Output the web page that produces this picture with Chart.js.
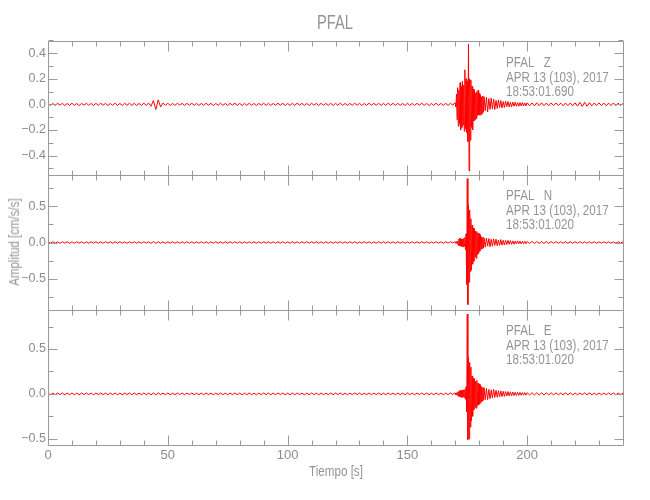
<!DOCTYPE html>
<html>
<head>
<meta charset="utf-8">
<script src="https://cdn.jsdelivr.net/npm/chart.js@4.4.1/dist/chart.umd.min.js"></script>
<style>
  body { margin: 0; background: #fff; }
  #wrap { position: relative; width: 650px; height: 500px; }
  canvas { position: absolute; left: 0; top: 0; }
  .t { position: absolute; font-family: 'Liberation Sans', sans-serif; color: #959595; white-space: pre; line-height: 1; }
  .info { font-size: 14px; line-height: 14.5px; left: 506px; transform: scaleX(0.83); transform-origin: 0 0; }
</style>
</head>
<body>
<div id="wrap">
  <canvas id="cz" width="650" height="500"></canvas>
  <canvas id="cn" width="650" height="500"></canvas>
  <canvas id="ce" width="650" height="500"></canvas>
  <div class="t" style="left:335px;top:13px;font-size:19.5px;transform:translateX(-50%) scaleX(0.75);">PFAL</div>
  <div class="t info" style="top:55px;">PFAL   Z
APR 13 (103), 2017
18:53:01.690</div>
  <div class="t info" style="top:188px;">PFAL   N
APR 13 (103), 2017
18:53:01.020</div>
  <div class="t info" style="top:323px;">PFAL   E
APR 13 (103), 2017
18:53:01.020</div>
  <div class="t" style="left:336px;top:464px;font-size:14px;transform:translateX(-50%) scaleX(0.83);">Tiempo [s]</div>
  <div class="t" style="left:14px;top:242px;font-size:14px;transform:translate(-50%,-50%) rotate(-90deg) scaleX(0.82);">Amplitud [cm/s/s]</div>
</div>
<script>
// sample times (s): quiet part, event, coda
const tQuiet = [0,1,2,3,4,5,6,7,8,9,10,11,12,13,14,15,16,17,18,19,20,21,22,23,24,25,26,27,28,29,30,31,32,33,34,35,36,37,38,39,
  40,41,42,43,44,45,46,47,48,49,50,51,52,53,54,55,56,57,58,59,60,61,62,63,64,65,66,67,68,69,70,71,72,73,74,75,76,77,78,79,
  80,81,82,83,84,85,86,87,88,89,90,91,92,93,94,95,96,97,98,99,100,101,102,103,104,105,106,107,108,109,110,111,112,113,114,115,116,117,118,119,
  120,121,122,123,124,125,126,127,128,129,130,131,132,133,134,135,136,137,138,139,140,141,142,143,144,145,146,147,148,149,
  150,151,152,153,154,155,156,157,158,159,160,161,162,163,164,165,166,167,168];
const tEvent = [169,169.5,
  170,170.25,170.5,170.75,171,171.25,171.5,171.75,172,172.25,172.5,172.75,173,173.25,173.5,173.75,174,174.25,174.5,174.75,
  175,175.25,175.5,175.75,176,176.25,176.5,176.75,177,177.25,177.5,177.75,178,178.25,178.5,178.75,179,179.25,179.5,179.75,
  180,180.25,180.5,180.75,181,181.25,181.5,181.75,182,
  182.5,183,183.5,184,184.5,185,185.5,186,186.5,187,187.5,188,188.5,189,189.5,190,190.5,191,191.5,192,192.5,193,193.5,194,194.5,195,195.5,196,196.5,197,197.5,198,198.5,199,199.5,200];
const tCoda = [201,202,203,204,205,206,207,208,209,210,211,212,213,214,215,216,217,218,219,220,221,222,223,224,225,226,227,228,229,230,231,232,233,234,235,236,237,238,239,240];

// Z component (cm/s/s)
const zQuiet = [
  0.008,-0.009,0.007,-0.008,0.009,-0.007,0.008,-0.009,0.007,-0.008,
  0.009,-0.008,0.007,-0.009,0.008,-0.007,0.009,-0.008,0.007,-0.009,
  0.008,-0.008,0.009,-0.007,0.008,-0.009,0.007,-0.008,0.009,-0.008,
  0.007,-0.009,0.008,-0.007,0.009,-0.008,0.008,-0.009,0.007,-0.008,
  0.009,-0.008,0.01,-0.015,0.03,-0.04,0.035,-0.02,0.01,-0.008,
  0.008,-0.009,0.007,-0.008,0.009,-0.007,0.008,-0.009,0.008,-0.007,
  0.009,-0.008,0.007,-0.009,0.008,-0.008,0.009,-0.007,0.008,-0.009,
  0.007,-0.008,0.009,-0.008,0.007,-0.009,0.008,-0.007,0.009,-0.008,
  0.008,-0.009,0.007,-0.008,0.009,-0.008,0.007,-0.009,0.008,-0.007,
  0.009,-0.008,0.008,-0.009,0.007,-0.008,0.009,-0.007,0.008,-0.009,
  0.007,-0.009,0.008,-0.008,0.009,-0.007,0.008,-0.009,0.007,-0.008,
  0.009,-0.007,0.008,-0.009,0.008,-0.008,0.007,-0.009,0.009,-0.008,
  0.008,-0.007,0.009,-0.008,0.007,-0.009,0.008,-0.008,0.009,-0.007,
  0.008,-0.009,0.007,-0.008,0.009,-0.008,0.008,-0.007,0.009,-0.009,
  0.007,-0.008,0.009,-0.007,0.008,-0.009,0.008,-0.008,0.007,-0.009,
  0.009,-0.008,0.007,-0.009,0.008,-0.007,0.009,-0.008,0.008,-0.009,
  0.007,-0.008,0.009,-0.008,0.007,-0.009,0.008,-0.008,0.009];
const zEvent = [-0.007,0.008,
  0.009,-0.02,0.08,-0.12,0.13,-0.17,0.11,-0.15,0.17,-0.2,0.14,-0.18,0.18,-0.16,0.15,-0.21,0.27,-0.19,0.2,-0.22,
  0.18,-0.29,0.47,-0.52,0.2,-0.28,0.19,-0.18,0.14,-0.2,0.12,-0.13,0.11,-0.12,0.09,-0.11,0.1,-0.09,0.11,-0.08,
  0.085,-0.085,0.07,-0.08,0.06,-0.07,0.065,-0.06,0.06,
  -0.05,0.055,-0.06,0.045,-0.04,0.05,-0.035,0.04,-0.04,0.03,-0.033,0.035,-0.025,0.03,-0.028,0.022,-0.024,0.025,
  -0.018,0.022,-0.02,0.016,-0.019,0.018,-0.014,0.017,-0.015,0.013,-0.015,0.014,-0.012,0.014,-0.013,0.011,-0.012,0.012];
const zCoda = [-0.012,0.011,-0.012,0.012,-0.011,0.012,-0.011,0.01,-0.011,0.011,-0.01,0.011,-0.01,0.01,-0.011,0.01,-0.01,0.011,-0.012,0.012,
  -0.014,0.016,-0.017,0.016,-0.015,0.013,-0.012,0.011,-0.01,0.011,-0.01,0.01,-0.011,0.01,-0.01,0.011,-0.01,0.01,-0.01,0.009];

// N component
const nQuiet = [
  0.01,-0.009,0.011,-0.01,0.009,-0.011,0.01,-0.009,0.011,-0.01,
  0.009,-0.01,0.011,-0.009,0.01,-0.011,0.009,-0.01,0.011,-0.009,
  0.01,-0.011,0.009,-0.01,0.011,-0.009,0.01,-0.011,0.01,-0.009,
  0.011,-0.01,0.009,-0.011,0.01,-0.009,0.011,-0.01,0.009,-0.01,
  0.011,-0.009,0.01,-0.012,0.013,-0.012,0.011,-0.01,0.009,-0.011,
  0.01,-0.009,0.011,-0.01,0.009,-0.011,0.01,-0.01,0.011,-0.009,
  0.01,-0.011,0.009,-0.01,0.011,-0.01,0.009,-0.011,0.01,-0.009,
  0.011,-0.01,0.009,-0.011,0.01,-0.009,0.011,-0.01,0.01,-0.009,
  0.01,-0.011,0.009,-0.01,0.011,-0.009,0.01,-0.011,0.009,-0.01,
  0.011,-0.009,0.01,-0.01,0.009,-0.011,0.01,-0.009,0.011,-0.01,
  0.009,-0.01,0.011,-0.009,0.01,-0.011,0.01,-0.009,0.011,-0.01,
  0.01,-0.009,0.011,-0.01,0.009,-0.011,0.01,-0.01,0.009,-0.011,
  0.01,-0.009,0.011,-0.01,0.009,-0.01,0.011,-0.009,0.01,-0.011,
  0.009,-0.01,0.011,-0.009,0.01,-0.011,0.009,-0.01,0.011,-0.01,
  0.01,-0.009,0.011,-0.01,0.009,-0.011,0.01,-0.009,0.01,-0.011,
  0.009,-0.01,0.011,-0.009,0.01,-0.01,0.011,-0.009,0.01,-0.011,
  0.009,-0.01,0.011,-0.009,0.01,-0.011,0.01,-0.009,0.011];
const nEvent = [-0.006,0.007,
  0.008,-0.01,0.012,-0.015,0.02,-0.04,0.05,-0.045,0.06,-0.05,0.045,-0.055,0.05,-0.06,0.055,-0.05,0.07,-0.1,0.12,-0.58,
  0.885,-0.86,0.52,-0.55,0.45,-0.4,0.33,-0.38,0.24,-0.3,0.2,-0.26,0.19,-0.2,0.16,-0.22,0.15,-0.17,0.13,-0.15,
  0.12,-0.12,0.1,-0.09,0.08,-0.085,0.07,-0.075,0.065,
  -0.065,0.06,-0.05,0.055,-0.06,0.045,-0.05,0.05,-0.04,0.045,-0.045,0.035,-0.04,0.04,-0.035,0.03,-0.035,0.03,
  -0.028,0.03,-0.025,0.027,-0.025,0.022,-0.024,0.02,-0.02,0.022,-0.018,0.018,-0.019,0.016,-0.017,0.016,-0.016,0.015];
const nCoda = [-0.015,0.015,-0.014,0.014,-0.014,0.013,-0.013,0.013,-0.012,0.012,-0.012,0.012,-0.011,0.011,-0.011,0.011,-0.011,0.01,-0.01,0.01,
  -0.01,0.011,-0.01,0.01,-0.01,0.01,-0.01,0.01,-0.01,0.009,-0.01,0.01,-0.009,0.01,-0.01,0.009,-0.01,0.01,-0.009,0.009];

// E component
const eQuiet = [
  0.009,-0.01,0.008,-0.009,0.01,-0.008,0.009,-0.01,0.008,-0.009,
  0.01,-0.009,0.008,-0.01,0.009,-0.008,0.01,-0.009,0.008,-0.01,
  0.009,-0.009,0.01,-0.008,0.009,-0.01,0.008,-0.009,0.01,-0.009,
  0.008,-0.01,0.009,-0.008,0.01,-0.009,0.009,-0.01,0.008,-0.009,
  0.01,-0.009,0.009,-0.011,0.01,-0.01,0.011,-0.009,0.008,-0.01,
  0.009,-0.01,0.008,-0.009,0.01,-0.008,0.009,-0.01,0.009,-0.008,
  0.01,-0.009,0.008,-0.01,0.009,-0.009,0.01,-0.008,0.009,-0.01,
  0.008,-0.009,0.01,-0.009,0.008,-0.01,0.009,-0.008,0.01,-0.009,
  0.009,-0.01,0.008,-0.009,0.01,-0.009,0.008,-0.01,0.009,-0.008,
  0.01,-0.009,0.009,-0.01,0.008,-0.009,0.01,-0.008,0.009,-0.01,
  0.008,-0.01,0.009,-0.009,0.01,-0.008,0.009,-0.01,0.008,-0.009,
  0.01,-0.008,0.009,-0.01,0.009,-0.009,0.008,-0.01,0.01,-0.009,
  0.009,-0.008,0.01,-0.009,0.008,-0.01,0.009,-0.009,0.01,-0.008,
  0.009,-0.01,0.008,-0.009,0.01,-0.009,0.009,-0.008,0.01,-0.01,
  0.008,-0.009,0.01,-0.008,0.009,-0.01,0.009,-0.009,0.008,-0.01,
  0.01,-0.009,0.008,-0.01,0.009,-0.008,0.01,-0.009,0.009,-0.01,
  0.008,-0.009,0.01,-0.009,0.008,-0.01,0.009,-0.009,0.01];
const eEvent = [-0.006,0.007,
  0.008,-0.009,0.012,-0.015,0.02,-0.025,0.03,-0.035,0.04,-0.03,0.035,-0.04,0.04,-0.035,0.045,-0.04,0.05,-0.06,0.08,-0.2,
  0.89,-0.51,0.41,-0.5,0.35,-0.37,0.3,-0.3,0.2,-0.25,0.17,-0.18,0.17,-0.15,0.14,-0.16,0.15,-0.13,0.12,-0.125,
  0.11,-0.11,0.1,-0.09,0.08,-0.08,0.07,-0.07,0.07,
  -0.065,0.06,-0.065,0.05,-0.055,0.045,-0.045,0.05,-0.04,0.04,-0.038,0.035,-0.032,0.033,-0.03,0.028,-0.028,0.026,
  -0.024,0.025,-0.022,0.022,-0.02,0.021,-0.019,0.018,-0.018,0.017,-0.016,0.016,-0.015,0.015,-0.014,0.014,-0.014,0.013];
const eCoda = [-0.013,0.013,-0.012,0.013,-0.012,0.012,-0.012,0.011,-0.011,0.012,-0.011,0.011,-0.011,0.01,-0.011,0.011,-0.01,0.011,-0.01,0.01,
  -0.011,0.01,-0.01,0.011,-0.01,0.01,-0.01,0.009,-0.01,0.01,-0.01,0.009,-0.01,0.01,-0.009,0.01,-0.01,0.009,-0.01,0.009];

// axes
const xRange = [0, 240];
const xMajor = [0, 50, 100, 150, 200];
const xMinor = [10, 20, 30, 40, 60, 70, 80, 90, 110, 120, 130, 140, 160, 170, 180, 190, 210, 220, 230];
const zRange = [-0.552, 0.495], zMajor = [-0.4, -0.2, 0, 0.2, 0.4], zMinor = [-0.5, -0.3, -0.1, 0.1, 0.3, 0.5];
const nRange = [-0.935, 0.935], nMajor = [-0.5, 0, 0.5], nMinor = [-0.75, -0.25, 0.25, 0.75];
const eRange = [-0.57, 0.935], eMajor = [-0.5, 0, 0.5], eMinor = [-0.25, 0.25, 0.75];

const GREY = '#8c8c8c';
const FONT = "'Liberation Sans', sans-serif";
const times = tQuiet.concat(tEvent, tCoda);

// box with inward ticks on all four sides
const frameTicks = {
  id: 'frameTicks',
  afterDraw(chart, args, o) {
    const { ctx, chartArea: a } = chart;
    const xs = chart.scales.x, ys = chart.scales.y;
    const L = Math.round(a.left) + 0.5, R = Math.round(a.right) + 0.5;
    const T = Math.round(a.top) + 0.5, B = Math.round(a.bottom) + 0.5;
    ctx.save();
    ctx.strokeStyle = '#9a9a9a';
    ctx.lineWidth = 1;
    ctx.beginPath();
    ctx.moveTo(L, T); ctx.lineTo(R, T); ctx.lineTo(R, B); ctx.lineTo(L, B); ctx.closePath();
    const xt = (vals, len) => vals.forEach(v => {
      const p = Math.round(xs.getPixelForValue(v)) + 0.5;
      ctx.moveTo(p, T); ctx.lineTo(p, T + len);
      ctx.moveTo(p, B); ctx.lineTo(p, B - len);
    });
    const yt = (vals, len) => vals.forEach(v => {
      const p = Math.round(ys.getPixelForValue(v)) + 0.5;
      ctx.moveTo(L, p); ctx.lineTo(L + len, p);
      ctx.moveTo(R, p); ctx.lineTo(R - len, p);
    });
    xt(xMajor, 10); xt(xMinor, 5);
    yt(o.major, 9); yt(o.minor, 5);
    ctx.stroke();
    ctx.restore();
  }
};

function fmt(v) {
  return (v < 0 ? '\u2212' : '') + Math.abs(v).toFixed(1);
}

function makePanel(id, values, range, major, minor, top, bottom, showX) {
  const data = times.map((t, i) => ({ x: t, y: values[i] }));
  new Chart(document.getElementById(id), {
    type: 'line',
    data: { datasets: [{ data, borderColor: '#ff0000', borderWidth: 1, pointRadius: 0, tension: 0 }] },
    options: {
      responsive: false,
      animation: false,
      events: [],
      layout: { padding: { left: 0, right: 27, top: top, bottom: showX ? 500 - bottom - 20 : 500 - bottom } },
      plugins: { legend: { display: false }, tooltip: { enabled: false }, frameTicks: { major, minor } },
      scales: {
        x: {
          type: 'linear', min: xRange[0], max: xRange[1], display: showX,
          grid: { display: false, drawTicks: false }, border: { display: false },
          afterBuildTicks: s => { s.ticks = xMajor.map(v => ({ value: v })); },
          afterFit: s => { s.height = showX ? 20 : 0; },
          ticks: { color: GREY, font: { family: FONT, size: 13 }, padding: 3, maxRotation: 0, autoSkip: false }
        },
        y: {
          min: range[0], max: range[1],
          grid: { display: false, drawTicks: false }, border: { display: false },
          afterBuildTicks: s => { s.ticks = major.map(v => ({ value: v })); },
          afterFit: s => { s.width = 48; },
          ticks: { color: GREY, font: { family: FONT, size: 12.5 }, padding: 2, callback: v => fmt(v) }
        }
      }
    },
    plugins: [frameTicks]
  });
}

makePanel('cz', zQuiet.concat(zEvent, zCoda), zRange, zMajor, zMinor, 41, 175, false);
makePanel('cn', nQuiet.concat(nEvent, nCoda), nRange, nMajor, nMinor, 175, 310, false);
makePanel('ce', eQuiet.concat(eEvent, eCoda), eRange, eMajor, eMinor, 310, 445, true);
</script>
</body>
</html>
